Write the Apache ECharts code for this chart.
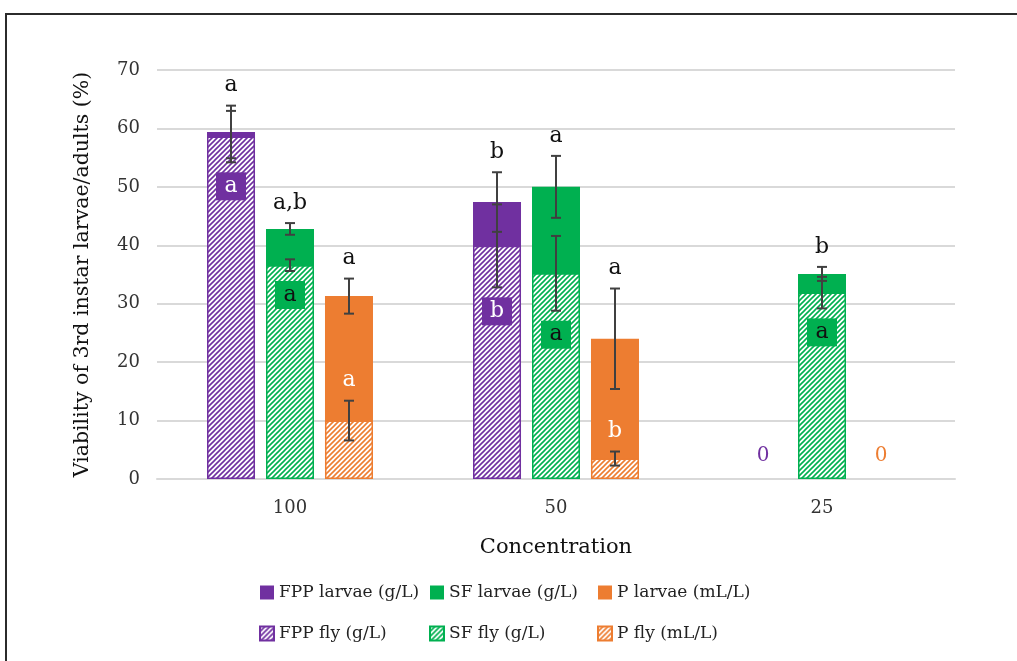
<!DOCTYPE html>
<html>
<head>
<meta charset="utf-8">
<script src="https://cdn.jsdelivr.net/npm/echarts@6/dist/echarts.min.js"></script>
<style>
html, body { margin: 0; padding: 0; background: #fff; }
#chart { width: 1017px; height: 661px; }
</style>
</head>
<body>
<div id="chart"></div>
<script>
// Concentrations on the category axis
const categories = ['100', '50', '25'];

// Viability (%) of 3rd instar larvae, with standard errors
const fppLarvae = [59.4, 47.4, 0];
const fppLarvaeErr = [4.5, 5.1, null];
const sfLarvae = [42.8, 50.0, 35.1];
const sfLarvaeErr = [1.0, 5.3, 1.2];
const pLarvae = [31.3, 24.0, 0];
const pLarvaeErr = [3.0, 8.6, null];

// Viability (%) of adult flies, with standard errors
const fppFly = [58.6, 39.9, 0];
const fppFlyErr = [4.4, 7.1, null];
const sfFly = [36.6, 35.2, 31.9];
const sfFlyErr = [1.0, 6.4, 2.7];
const pFly = [10.0, 3.5, 0];
const pFlyErr = [3.4, 1.2, null];

// Significance letters
const fppLarvaeLetters = ['a', 'b', ''];
const sfLarvaeLetters = ['a,b', 'a', 'b'];
const pLarvaeLetters = ['a', 'a', ''];
const fppFlyLetters = ['a', 'b', ''];
const sfFlyLetters = ['a', 'a', 'a'];
const pFlyLetters = ['a', 'b', ''];

// Value axis ticks
const yMin = 0, yMax = 70, yStep = 10;

const PURPLE = '#7030A0', GREEN = '#00B050', ORANGE = '#ED7D31';
const FONT = 'DejaVu Serif';
const BAR_W = 48, BAR_GAP = 11;

// diagonal hatch tile used for the adult-fly bars
function hatch(color) {
  const s = 5;
  const c = document.createElement('canvas');
  c.width = s; c.height = s;
  const g = c.getContext('2d');
  g.fillStyle = '#fff';
  g.fillRect(0, 0, s, s);
  g.strokeStyle = color;
  g.lineWidth = 1.6;
  g.beginPath();
  g.moveTo(-1, s + 1); g.lineTo(s + 1, -1);
  g.moveTo(-1, 1); g.lineTo(1, -1);
  g.moveTo(s - 1, s + 1); g.lineTo(s + 1, s - 1);
  g.stroke();
  return { image: c, repeat: 'repeat' };
}

function larvaeBar(name, values, color) {
  return {
    name, type: 'bar', xAxisIndex: 0, data: values,
    barWidth: BAR_W, barGap: (BAR_GAP / BAR_W * 100).toFixed(1) + '%',
    itemStyle: { color },
    label: {
      show: true, position: 'top', distance: 13,
      color, fontFamily: FONT, fontSize: 20,
      formatter: p => (p.value === 0 ? '0' : '')
    },
    z: 2
  };
}

function flyBar(name, values, color) {
  return {
    name, type: 'bar', xAxisIndex: 1,
    // empty bars get no outline
    data: values.map(v => (v === 0 ? { value: v, itemStyle: { borderWidth: 0 } } : v)),
    barWidth: BAR_W, barGap: (BAR_GAP / BAR_W * 100).toFixed(1) + '%',
    itemStyle: { color: hatch(color), borderColor: color, borderWidth: 1.5 },
    z: 3
  };
}

// error bar plus significance letter for one series
// mode: 'above' (black letter over the bar), 'box' (letter in coloured box under the bar),
//       'inside' (white letter over the error bar)
function errorSeries(values, errs, letters, slot, mode, color, textColor) {
  return {
    type: 'custom', xAxisIndex: 0, yAxisIndex: 0, z: 10, silent: true,
    data: values.map((v, i) => [i, v]),
    encode: { x: 0, y: 1 },
    renderItem(params, api) {
      const i = params.dataIndex;
      const v = values[i], e = errs[i], letter = letters[i];
      const children = [];
      if (e == null) return { type: 'group', children };
      const top = api.coord([i, v + e]);
      const bot = api.coord([i, v - e]);
      const x = top[0] + slot * (BAR_W + BAR_GAP);
      const ls = { stroke: '#404040', lineWidth: 2 };
      children.push({ type: 'line', shape: { x1: x, y1: top[1], x2: x, y2: bot[1] }, style: ls });
      children.push({ type: 'line', shape: { x1: x - 5, y1: top[1], x2: x + 5, y2: top[1] }, style: ls });
      children.push({ type: 'line', shape: { x1: x - 5, y1: bot[1], x2: x + 5, y2: bot[1] }, style: ls });
      if (letter) {
        if (mode === 'above' || mode === 'inside') {
          children.push({
            type: 'text', x, y: top[1] - 20,
            style: {
              text: letter, fill: mode === 'above' ? '#111' : '#fff',
              font: '22px "' + FONT + '"', align: 'center', verticalAlign: 'middle'
            }
          });
        } else {
          const cy = bot[1] + 24;
          children.push({
            type: 'rect', shape: { x: x - 15, y: cy - 14, width: 30, height: 28 },
            style: { fill: color }
          });
          children.push({
            type: 'text', x, y: cy,
            style: {
              text: letter, fill: textColor,
              font: '22px "' + FONT + '"', align: 'center', verticalAlign: 'middle'
            }
          });
        }
      }
      return { type: 'group', children };
    }
  };
}

const legendText = { fontFamily: FONT, fontSize: 17, color: '#222' };
function legendCol(left, names) {
  return {
    data: names, orient: 'vertical', left, top: 584, padding: 0,
    itemGap: 24, itemWidth: 14, itemHeight: 14, icon: 'rect',
    textStyle: legendText
  };
}

const chart = echarts.init(document.getElementById('chart'));
chart.setOption({
  animation: false,
  backgroundColor: '#fff',
  graphic: [{
    type: 'rect', silent: true,
    shape: { x: 6, y: 14, width: 1100, height: 800 },
    style: { fill: 'none', stroke: '#2b2b2b', lineWidth: 2 }
  }],
  grid: { left: 157, right: 62, top: 70, bottom: 182 },
  xAxis: [{
    type: 'category', data: categories,
    axisLine: { lineStyle: { color: '#d9d9d9', width: 2 } },
    axisTick: { show: false },
    axisLabel: { fontFamily: FONT, fontSize: 18, color: '#333', margin: 20 },
    name: 'Concentration', nameLocation: 'middle', nameGap: 58,
    nameTextStyle: { fontFamily: FONT, fontSize: 21, color: '#111' }
  }, {
    type: 'category', data: categories, show: false
  }],
  yAxis: {
    type: 'value', min: yMin, max: yMax, interval: yStep,
    axisLine: { show: false }, axisTick: { show: false },
    splitLine: { lineStyle: { color: '#d9d9d9', width: 2 } },
    axisLabel: { fontFamily: FONT, fontSize: 18, color: '#333', margin: 17 },
    name: 'Viability of 3rd instar larvae/adults (%)',
    nameLocation: 'middle', nameGap: 64,
    nameTextStyle: { fontFamily: FONT, fontSize: 20.5, color: '#111' }
  },
  legend: [
    legendCol(259, ['FPP larvae (g/L)', 'FPP fly (g/L)']),
    legendCol(429, ['SF larvae (g/L)', 'SF fly (g/L)']),
    legendCol(597, ['P larvae (mL/L)', 'P fly (mL/L)'])
  ],
  series: [
    larvaeBar('FPP larvae (g/L)', fppLarvae, PURPLE),
    larvaeBar('SF larvae (g/L)', sfLarvae, GREEN),
    larvaeBar('P larvae (mL/L)', pLarvae, ORANGE),
    flyBar('FPP fly (g/L)', fppFly, PURPLE),
    flyBar('SF fly (g/L)', sfFly, GREEN),
    flyBar('P fly (mL/L)', pFly, ORANGE),
    errorSeries(fppLarvae, fppLarvaeErr, fppLarvaeLetters, -1, 'above'),
    errorSeries(sfLarvae, sfLarvaeErr, sfLarvaeLetters, 0, 'above'),
    errorSeries(pLarvae, pLarvaeErr, pLarvaeLetters, 1, 'above'),
    errorSeries(fppFly, fppFlyErr, fppFlyLetters, -1, 'box', PURPLE, '#fff'),
    errorSeries(sfFly, sfFlyErr, sfFlyLetters, 0, 'box', GREEN, '#111'),
    errorSeries(pFly, pFlyErr, pFlyLetters, 1, 'inside')
  ]
});
</script>
</body>
</html>
